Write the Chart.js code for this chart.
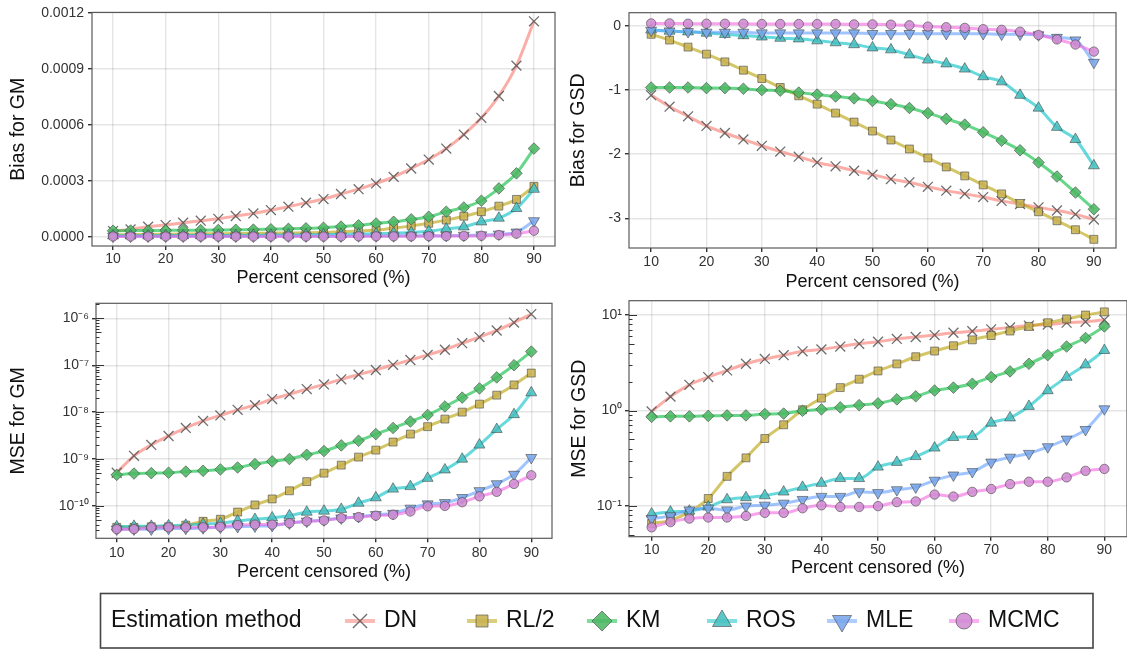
<!DOCTYPE html>
<html>
<head>
<meta charset="utf-8">
<script src="https://cdn.jsdelivr.net/npm/chart.js@4/dist/chart.umd.min.js"></script>
<style>
  html, body { margin: 0; padding: 0; background: #fff; width: 1127px; height: 650px; overflow: hidden; }
  canvas { position: absolute; left: 0; top: 0; }
</style>
</head>
<body>
<canvas id="biasGM" width="1140" height="650"></canvas>
<canvas id="biasGSD" width="1140" height="650"></canvas>
<canvas id="mseGM" width="1140" height="650"></canvas>
<canvas id="mseGSD" width="1140" height="650"></canvas>
<canvas id="legendBox" width="1140" height="650"></canvas>
<script>
// Percent of observations censored (x positions of every series)
const PCT = [10, 13.33, 16.67, 20, 23.33, 26.67, 30, 33.33, 36.67, 40, 43.33, 46.67, 50,
             53.33, 56.67, 60, 63.33, 66.67, 70, 73.33, 76.67, 80, 83.33, 86.67, 90];
const X_TICKS = [10, 20, 30, 40, 50, 60, 70, 80, 90];
const METHODS = ['DN', 'RL/2', 'KM', 'ROS', 'MLE', 'MCMC'];

// Bias for GM
const BIAS_GM_DN   = [3.0e-5, 3.9e-5, 5.4e-5, 6.25e-5, 7.5e-5, 8.6e-5, 9.6e-5, 1.11e-4, 1.25e-4, 1.43e-4, 1.61e-4, 1.82e-4, 2.02e-4, 2.29e-4, 2.55e-4, 2.86e-4, 3.21e-4, 3.66e-4, 4.14e-4, 4.73e-4, 5.48e-4, 6.38e-4, 7.55e-4, 9.18e-4, 1.156e-3];
const BIAS_GM_RL2  = [1.0e-5, 1.1e-5, 1.2e-5, 1.3e-5, 1.4e-5, 1.5e-5, 1.6e-5, 1.7e-5, 1.8e-5, 1.9e-5, 2.0e-5, 2.1e-5, 2.3e-5, 2.6e-5, 3.0e-5, 3.6e-5, 4.6e-5, 5.8e-5, 7.2e-5, 8.9e-5, 1.1e-4, 1.34e-4, 1.64e-4, 2.0e-4, 2.7e-4];
const BIAS_GM_KM   = [3.2e-5, 3.3e-5, 3.3e-5, 3.4e-5, 3.5e-5, 3.5e-5, 3.6e-5, 3.7e-5, 3.8e-5, 4.0e-5, 4.2e-5, 4.5e-5, 4.8e-5, 5.4e-5, 6.1e-5, 7.1e-5, 8.0e-5, 9.3e-5, 1.07e-4, 1.34e-4, 1.57e-4, 1.93e-4, 2.59e-4, 3.4e-4, 4.73e-4];
const BIAS_GM_ROS  = [5e-6, 5e-6, 5e-6, 6e-6, 6e-6, 6e-6, 7e-6, 7e-6, 8e-6, 8e-6, 9e-6, 1.0e-5, 1.1e-5, 1.2e-5, 1.4e-5, 1.6e-5, 1.9e-5, 2.3e-5, 2.9e-5, 4.2e-5, 5.3e-5, 8.0e-5, 1.0e-4, 1.52e-4, 2.55e-4];
const BIAS_GM_MLE  = [2e-6, 2e-6, 2e-6, 2e-6, 2e-6, 2e-6, 2e-6, 2e-6, 2e-6, 3e-6, 3e-6, 3e-6, 3e-6, 3e-6, 4e-6, 4e-6, 4e-6, 5e-6, 5e-6, 6e-6, 7e-6, 9e-6, 1.3e-5, 2.4e-5, 8.5e-5];
const BIAS_GM_MCMC = [1e-6, 1e-6, 1e-6, 1e-6, 1e-6, 1e-6, 1e-6, 1e-6, 1e-6, 1e-6, 1e-6, 1e-6, 1e-6, 1e-6, 2e-6, 2e-6, 2e-6, 2e-6, 3e-6, 3e-6, 4e-6, 5e-6, 9e-6, 1.6e-5, 3.2e-5];

// Bias for GSD
const BIAS_GSD_DN   = [-1.08, -1.26, -1.41, -1.56, -1.67, -1.77, -1.87, -1.96, -2.04, -2.13, -2.19, -2.26, -2.32, -2.39, -2.44, -2.51, -2.57, -2.62, -2.67, -2.73, -2.78, -2.83, -2.88, -2.94, -3.02];
const BIAS_GSD_RL2  = [-0.13, -0.22, -0.33, -0.44, -0.56, -0.69, -0.82, -0.96, -1.09, -1.22, -1.36, -1.50, -1.64, -1.78, -1.92, -2.06, -2.20, -2.34, -2.48, -2.62, -2.77, -2.90, -3.04, -3.18, -3.33];
const BIAS_GSD_KM   = [-0.96, -0.96, -0.96, -0.97, -0.97, -0.98, -1.00, -1.01, -1.04, -1.07, -1.10, -1.13, -1.17, -1.22, -1.28, -1.36, -1.45, -1.54, -1.66, -1.79, -1.94, -2.13, -2.35, -2.60, -2.86];
const BIAS_GSD_ROS  = [-0.06, -0.08, -0.09, -0.11, -0.13, -0.15, -0.17, -0.19, -0.20, -0.23, -0.26, -0.29, -0.34, -0.37, -0.45, -0.53, -0.59, -0.67, -0.79, -0.87, -1.08, -1.28, -1.58, -1.77, -2.18];
const BIAS_GSD_MLE  = [-0.07, -0.08, -0.09, -0.10, -0.10, -0.10, -0.11, -0.11, -0.11, -0.11, -0.11, -0.11, -0.12, -0.12, -0.12, -0.12, -0.12, -0.12, -0.12, -0.13, -0.13, -0.14, -0.18, -0.22, -0.57];
const BIAS_GSD_MCMC = [0.04, 0.04, 0.035, 0.035, 0.035, 0.035, 0.03, 0.03, 0.03, 0.03, 0.03, 0.025, 0.025, 0.02, 0.01, -0.01, -0.02, -0.03, -0.05, -0.06, -0.09, -0.14, -0.21, -0.29, -0.40];

// MSE for GM
const MSE_GM_DN   = [5.1e-10, 1.17e-9, 2.0e-9, 3.1e-9, 4.6e-9, 6.5e-9, 8.5e-9, 1.12e-8, 1.41e-8, 1.9e-8, 2.4e-8, 3.1e-8, 3.9e-8, 5.0e-8, 6.3e-8, 7.9e-8, 1.02e-7, 1.29e-7, 1.66e-7, 2.14e-7, 2.95e-7, 3.98e-7, 5.5e-7, 8.1e-7, 1.23e-6];
const MSE_GM_RL2  = [3.5e-11, 3.5e-11, 3.6e-11, 3.6e-11, 3.9e-11, 4.7e-11, 5.2e-11, 7.4e-11, 1.05e-10, 1.41e-10, 2.1e-10, 3.3e-10, 5.0e-10, 7.4e-10, 1.1e-9, 1.55e-9, 2.3e-9, 3.4e-9, 4.9e-9, 7.1e-9, 1.0e-8, 1.48e-8, 2.3e-8, 3.8e-8, 6.8e-8];
const MSE_GM_KM   = [4.6e-10, 4.9e-10, 5.0e-10, 5.1e-10, 5.4e-10, 5.6e-10, 6.0e-10, 6.6e-10, 7.8e-10, 8.9e-10, 1.0e-9, 1.23e-9, 1.48e-9, 1.95e-9, 2.45e-9, 3.4e-9, 4.6e-9, 6.3e-9, 8.7e-9, 1.32e-8, 2.04e-8, 3.2e-8, 5.5e-8, 1.0e-7, 1.95e-7];
const MSE_GM_ROS  = [3.6e-11, 3.7e-11, 3.7e-11, 3.8e-11, 3.9e-11, 4.1e-11, 4.3e-11, 4.8e-11, 5.2e-11, 5.6e-11, 6.2e-11, 7.4e-11, 7.8e-11, 8.5e-11, 1.15e-10, 1.5e-10, 2.3e-10, 2.6e-10, 3.9e-10, 5.9e-10, 1.0e-9, 2.0e-9, 4.3e-9, 8.9e-9, 2.6e-8];
const MSE_GM_MLE  = [3.2e-11, 3.2e-11, 3.2e-11, 3.3e-11, 3.3e-11, 3.4e-11, 3.5e-11, 3.6e-11, 3.7e-11, 3.8e-11, 4.3e-11, 4.7e-11, 5.0e-11, 5.5e-11, 5.9e-11, 6.5e-11, 6.9e-11, 8.9e-11, 1.1e-10, 1.17e-10, 1.5e-10, 2.1e-10, 2.95e-10, 4.7e-10, 1.07e-9];
const MSE_GM_MCMC = [3.2e-11, 3.2e-11, 3.5e-11, 3.5e-11, 3.5e-11, 3.5e-11, 3.6e-11, 3.9e-11, 4.0e-11, 4.0e-11, 4.3e-11, 4.7e-11, 4.9e-11, 5.5e-11, 5.8e-11, 6.2e-11, 6.5e-11, 7.6e-11, 9.8e-11, 1.0e-10, 1.2e-10, 1.6e-10, 2.0e-10, 2.95e-10, 4.5e-10];

// MSE for GSD
const MSE_GSD_DN   = [0.98, 1.4, 1.86, 2.24, 2.63, 3.09, 3.47, 3.8, 4.17, 4.37, 4.68, 5.0, 5.25, 5.62, 5.89, 6.17, 6.53, 6.76, 7.08, 7.41, 7.76, 7.94, 8.32, 8.51, 8.91];
const MSE_GSD_RL2  = [0.066, 0.071, 0.087, 0.12, 0.205, 0.32, 0.51, 0.71, 1.02, 1.35, 1.74, 2.13, 2.6, 3.08, 3.66, 4.2, 4.77, 5.5, 6.1, 6.8, 7.6, 8.3, 9.1, 10.0, 10.8];
const MSE_GSD_KM   = [0.86, 0.87, 0.87, 0.88, 0.89, 0.89, 0.92, 0.93, 0.995, 1.03, 1.08, 1.14, 1.19, 1.31, 1.41, 1.62, 1.74, 1.91, 2.24, 2.57, 3.09, 3.8, 4.68, 5.75, 7.6];
const MSE_GSD_ROS  = [0.083, 0.087, 0.089, 0.098, 0.117, 0.123, 0.129, 0.141, 0.158, 0.174, 0.195, 0.195, 0.257, 0.288, 0.331, 0.407, 0.525, 0.537, 0.741, 0.841, 1.11, 1.62, 2.24, 3.02, 4.27];
const MSE_GSD_MLE  = [0.074, 0.079, 0.091, 0.095, 0.091, 0.1, 0.102, 0.107, 0.117, 0.126, 0.126, 0.141, 0.138, 0.148, 0.158, 0.186, 0.211, 0.229, 0.288, 0.324, 0.355, 0.417, 0.501, 0.631, 1.04];
const MSE_GSD_MCMC = [0.06, 0.068, 0.074, 0.076, 0.076, 0.079, 0.085, 0.085, 0.095, 0.102, 0.098, 0.098, 0.1, 0.11, 0.112, 0.132, 0.126, 0.141, 0.151, 0.17, 0.18, 0.18, 0.2, 0.234, 0.245];

// Axis ticks and limits
const BIAS_GM_TICKS  = [0, 0.0003, 0.0006, 0.0009, 0.0012];
const BIAS_GSD_TICKS = [-3, -2, -1, 0];
const MSE_GM_RANGE  = [Math.pow(10, -10.69), Math.pow(10, -5.68)];
const MSE_GSD_RANGE = [Math.pow(10, -1.32), Math.pow(10, 1.15)];

// ---------------------------------------------------------------------------
const FONT = '"Liberation Sans", Arial, Helvetica, sans-serif';
const GRID = 'rgba(0,0,0,0.10)';
// line colour, marker fill, marker shape and sizes (panel / legend)
const STYLE = {
  'DN':   { color: [248, 118, 109], fill: 'rgba(0,0,0,0)',          shape: 'crossRot', r: 7,   lr: 10,  rot: 0 },
  'RL/2': { color: [183, 159, 0],   fill: 'rgba(200,178,80,0.88)',  shape: 'rect',     r: 5.6, lr: 8.5, rot: 0 },
  'KM':   { color: [0, 186, 56],    fill: 'rgba(76,184,100,0.88)',  shape: 'rectRot',  r: 5.8, lr: 10,  rot: 0 },
  'ROS':  { color: [0, 191, 196],   fill: 'rgba(72,192,194,0.88)',  shape: 'triangle', r: 6.3, lr: 11,  rot: 0 },
  'MLE':  { color: [97, 156, 255],  fill: 'rgba(120,166,236,0.88)', shape: 'triangle', r: 6.3, lr: 11,  rot: 180 },
  'MCMC': { color: [245, 100, 227], fill: 'rgba(210,140,212,0.88)', shape: 'circle',   r: 4.7, lr: 8,   rot: 0 }
};
const MARK_EDGE = 'rgba(70,70,70,0.6)';
const CROSS_EDGE = 'rgba(85,85,85,0.85)';
const rgba = (c, a) => `rgba(${c[0]},${c[1]},${c[2]},${a})`;
const SUP = { '-': '\u207B', '0': '\u2070', '1': '\u00B9', '2': '\u00B2', '3': '\u00B3', '4': '\u2074',
              '5': '\u2075', '6': '\u2076', '7': '\u2077', '8': '\u2078', '9': '\u2079' };
const powerLabel = e => '10' + String(e).split('').map(ch => SUP[ch]).join('');
const exponentOf = v => Math.round(Math.log10(v));
const isDecade = v => Math.abs(Math.log10(v) - exponentOf(v)) < 1e-6;

function buildDatasets(seriesList) {
  const lines = [], points = [];
  seriesList.forEach((vals, i) => {
    const m = METHODS[i], s = STYLE[m];
    const data = PCT.map((x, k) => ({ x, y: vals[k] }));
    lines.push({
      label: m, data, order: 30 - i,
      borderColor: rgba(s.color, 0.6), borderWidth: 3,
      pointRadius: 0, cubicInterpolationMode: 'monotone', fill: false
    });
    points.push({
      label: m, data, order: 20 - i, showLine: false,
      pointStyle: s.shape, pointRadius: s.r, pointRotation: s.rot,
      pointBackgroundColor: s.fill,
      pointBorderColor: m === 'DN' ? CROSS_EDGE : MARK_EDGE,
      pointBorderWidth: m === 'DN' ? 1.3 : 1
    });
  });
  return [...lines, ...points];
}

// panel frame drawn over the data
const framePlugin = {
  id: 'panelFrame',
  afterDatasetsDraw(chart) {
    const { ctx, chartArea: a } = chart;
    ctx.save();
    ctx.strokeStyle = '#5a5a5a';
    ctx.lineWidth = 1.2;
    ctx.strokeRect(a.left, a.top, a.right - a.left, a.bottom - a.top);
    ctx.restore();
  }
};

// logarithmic tick marks along the inner left edge
const logTicksPlugin = {
  id: 'logTicks',
  afterDatasetsDraw(chart) {
    const y = chart.scales.y;
    if (y.type !== 'logarithmic') return;
    const { ctx, chartArea: a } = chart;
    ctx.save();
    ctx.strokeStyle = '#333';
    ctx.lineWidth = 1;
    y.ticks.forEach(t => {
      const m = Math.round(t.value / Math.pow(10, Math.floor(Math.log10(t.value) + 1e-9)));
      const len = m === 1 ? 8 : (m === 5 ? 5.5 : 3.5);
      const py = Math.round(y.getPixelForValue(t.value)) + 0.5;
      ctx.beginPath();
      ctx.moveTo(a.left, py);
      ctx.lineTo(a.left + len, py);
      ctx.stroke();
    });
    ctx.restore();
  }
};

function makePanel(id, geom, yScale, seriesList, yTitle) {
  const CW = 1140, CH = 650;
  const Y_FONT = 19.5, X_FONT = 18;
  const yLeft = geom.yTitleX - Y_FONT * 1.2 / 2;
  const xH = geom.xTitleY + X_FONT * 1.2 / 2 - geom.B;
  const y = Object.assign({
    bounds: 'data',
    afterFit: s => { s.width = geom.L - yLeft; },
    border: { display: false },
    title: { display: true, text: yTitle, font: { family: FONT, size: Y_FONT }, color: '#111', padding: 0 }
  }, yScale);
  return new Chart(document.getElementById(id), {
    type: 'line',
    data: { datasets: buildDatasets(seriesList) },
    options: {
      responsive: false, animation: false, devicePixelRatio: 1, events: [],
      layout: { autoPadding: false, padding: { left: yLeft, top: geom.T, right: CW - geom.R, bottom: CH - geom.B - xH } },
      plugins: { legend: { display: false }, tooltip: { enabled: false } },
      scales: {
        x: {
          type: 'linear', min: 6, max: 94, bounds: 'data',
          afterFit: s => { s.height = xH; },
          afterBuildTicks: s => { s.ticks = X_TICKS.map(v => ({ value: v })); },
          grid: { color: GRID, lineWidth: 1.4, tickLength: 4, tickColor: '#333' },
          border: { display: false },
          ticks: { font: { family: FONT, size: 14 }, color: '#333', padding: geom.xPad, maxRotation: 0, autoSkip: false },
          title: { display: true, text: 'Percent censored (%)', font: { family: FONT, size: X_FONT }, color: '#111', padding: 0 }
        },
        y
      }
    },
    plugins: [framePlugin, logTicksPlugin]
  });
}

function linearY(min, max, ticks, fmt) {
  return {
    type: 'linear', min, max,
    afterBuildTicks: s => { s.ticks = ticks.map(v => ({ value: v })); },
    grid: { color: GRID, lineWidth: 1.4, tickLength: 4, tickColor: '#333' },
    ticks: { font: { family: FONT, size: 14 }, color: '#333', padding: 4, autoSkip: false, callback: fmt }
  };
}

function logY(range) {
  return {
    type: 'logarithmic', min: range[0], max: range[1],
    afterBuildTicks: s => {
      const out = [];
      const e0 = Math.floor(Math.log10(range[0])), e1 = Math.ceil(Math.log10(range[1]));
      for (let e = e0; e <= e1; e++) {
        for (let m = 1; m <= 9; m++) {
          const v = m * Math.pow(10, e);
          if (v >= range[0] && v <= range[1]) out.push({ value: v });
        }
      }
      s.ticks = out;
    },
    grid: {
      lineWidth: 1.4, tickLength: 4,
      color: c => (c.tick && isDecade(c.tick.value)) ? GRID : 'rgba(0,0,0,0)',
      tickColor: c => (c.tick && isDecade(c.tick.value)) ? '#333' : 'rgba(0,0,0,0)'
    },
    ticks: {
      font: { family: FONT, size: 14 }, color: '#333', padding: 3, autoSkip: false,
      callback: v => isDecade(v) ? powerLabel(exponentOf(v)) : ''
    }
  };
}

makePanel('biasGM',
  { L: 92, T: 12, R: 555, B: 246, yTitleX: 18.6, xTitleY: 278, xPad: 1 },
  linearY(-0.00005, 0.0012037, BIAS_GM_TICKS, v => v.toFixed(4)),
  [BIAS_GM_DN, BIAS_GM_RL2, BIAS_GM_KM, BIAS_GM_ROS, BIAS_GM_MLE, BIAS_GM_MCMC], 'Bias for GM');

makePanel('biasGSD',
  { L: 629, T: 12.7, R: 1116, B: 248, yTitleX: 578.6, xTitleY: 282, xPad: 2 },
  linearY(-3.465, 0.207, BIAS_GSD_TICKS, v => String(v)),
  [BIAS_GSD_DN, BIAS_GSD_RL2, BIAS_GSD_KM, BIAS_GSD_ROS, BIAS_GSD_MLE, BIAS_GSD_MCMC], 'Bias for GSD');

makePanel('mseGM',
  { L: 96, T: 303.3, R: 552, B: 538.3, yTitleX: 19, xTitleY: 572, xPad: 2 },
  logY(MSE_GM_RANGE),
  [MSE_GM_DN, MSE_GM_RL2, MSE_GM_KM, MSE_GM_ROS, MSE_GM_MLE, MSE_GM_MCMC], 'MSE for GM');

makePanel('mseGSD',
  { L: 629, T: 300.7, R: 1127, B: 536.7, yTitleX: 579.6, xTitleY: 568, xPad: 1 },
  logY(MSE_GSD_RANGE),
  [MSE_GSD_DN, MSE_GSD_RL2, MSE_GSD_KM, MSE_GSD_ROS, MSE_GSD_MLE, MSE_GSD_MCMC], 'MSE for GSD');

// ---------------------------------------------------------------------------
// Shared legend: boxed row with the title on the left and one key per method
const LEGEND_KEY_X = [360, 482, 602, 722, 842, 964];
const legendPlugin = {
  id: 'methodLegend',
  afterDraw(chart) {
    const ctx = chart.ctx;
    const cy = 621;
    ctx.save();
    ctx.strokeStyle = '#444';
    ctx.lineWidth = 1.6;
    ctx.strokeRect(100.5, 593.5, 992.5, 54.5);
    ctx.font = '23px ' + FONT;
    ctx.fillStyle = '#111';
    ctx.textBaseline = 'middle';
    ctx.textAlign = 'left';
    ctx.fillText('Estimation method', 111, cy);
    chart.data.datasets.forEach((ds, i) => {
      const s = STYLE[ds.label];
      const cx = LEGEND_KEY_X[i];
      ctx.strokeStyle = rgba(s.color, 0.5);
      ctx.lineWidth = 4;
      ctx.beginPath();
      ctx.moveTo(cx - 15, cy);
      ctx.lineTo(cx + 15, cy);
      ctx.stroke();
      ctx.fillStyle = s.fill;
      ctx.strokeStyle = ds.label === 'DN' ? CROSS_EDGE : MARK_EDGE;
      ctx.lineWidth = ds.label === 'DN' ? 1.3 : 1;
      Chart.helpers.drawPoint(ctx, { pointStyle: s.shape, radius: s.lr, rotation: s.rot, borderWidth: ctx.lineWidth }, cx, cy);
      ctx.fillStyle = '#111';
      ctx.fillText(ds.label, cx + 24, cy);
    });
    ctx.restore();
  }
};

new Chart(document.getElementById('legendBox'), {
  type: 'line',
  data: { datasets: METHODS.map(m => ({ label: m, data: [] })) },
  options: {
    responsive: false, animation: false, devicePixelRatio: 1, events: [],
    plugins: { legend: { display: false }, tooltip: { enabled: false } },
    scales: { x: { display: false }, y: { display: false } }
  },
  plugins: [legendPlugin]
});
</script>
</body>
</html>
